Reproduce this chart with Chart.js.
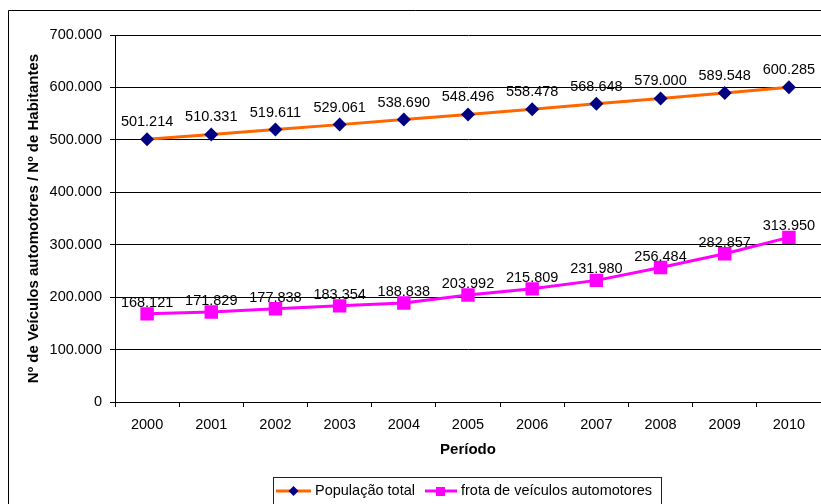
<!DOCTYPE html>
<html>
<head>
<meta charset="utf-8">
<script src="https://cdn.jsdelivr.net/npm/chart.js@4/dist/chart.umd.min.js"></script>
<style>
  html, body { margin: 0; padding: 0; background: #fff; }
  canvas { display: block; }
</style>
</head>
<body>
<canvas id="chart" width="821" height="504"></canvas>
<script>
// Anos do período analisado
const anos = ['2000', '2001', '2002', '2003', '2004', '2005', '2006', '2007', '2008', '2009', '2010'];
// População total (habitantes)
const populacao = [501214, 510331, 519611, 529061, 538690, 548496, 558478, 568648, 579000, 589548, 600285];
// Frota de veículos automotores
const frota = [168121, 171829, 177838, 183354, 188838, 203992, 215809, 231980, 256484, 282857, 313950];
// Escala do eixo vertical
const eixoMin = 0;
const eixoMax = 700000;
const eixoPasso = 100000;

const FONT = '"Liberation Sans", Arial, Helvetica, sans-serif';

// número com ponto como separador de milhar
function fmt(v) {
  if (v === 0) return '0';
  return String(v).replace(/\B(?=(\d{3})+(?!\d))/g, '.');
}

// fundo branco, moldura externa, rótulos de valores e legenda
const extras = {
  id: 'extras',
  beforeDraw(chart) {
    const ctx = chart.ctx;
    ctx.save();
    ctx.fillStyle = '#fff';
    ctx.fillRect(0, 0, chart.width, chart.height);
    ctx.restore();
  },
  afterDatasetsDraw(chart) {
    const ctx = chart.ctx;
    const offsets = [-17, -11];
    ctx.save();
    ctx.font = '14.5px ' + FONT;
    ctx.fillStyle = '#000';
    ctx.textAlign = 'center';
    ctx.textBaseline = 'middle';
    chart.data.datasets.forEach((ds, i) => {
      const meta = chart.getDatasetMeta(i);
      meta.data.forEach((pt, j) => {
        ctx.fillText(fmt(ds.data[j]), pt.x, pt.y + offsets[i]);
      });
    });
    ctx.restore();
  },
  afterDraw(chart) {
    const ctx = chart.ctx;
    ctx.save();
    // moldura externa
    ctx.strokeStyle = '#000';
    ctx.lineWidth = 1;
    ctx.beginPath();
    ctx.moveTo(8.5, chart.height + 2);
    ctx.lineTo(8.5, 10.5);
    ctx.lineTo(chart.width + 2, 10.5);
    ctx.stroke();

    // legenda
    ctx.strokeStyle = '#222';
    ctx.strokeRect(273.5, 477.5, 388, 30);
    const ly = 491;
    const ds = chart.data.datasets;
    // série 1
    ctx.strokeStyle = ds[0].borderColor;
    ctx.lineWidth = 3;
    ctx.beginPath(); ctx.moveTo(276, ly); ctx.lineTo(311, ly); ctx.stroke();
    ctx.fillStyle = ds[0].pointBackgroundColor;
    ctx.beginPath();
    ctx.moveTo(293.5, ly - 5); ctx.lineTo(298.5, ly); ctx.lineTo(293.5, ly + 5); ctx.lineTo(288.5, ly);
    ctx.closePath(); ctx.fill();
    // série 2
    ctx.strokeStyle = ds[1].borderColor;
    ctx.beginPath(); ctx.moveTo(425, ly); ctx.lineTo(457, ly); ctx.stroke();
    ctx.fillStyle = ds[1].pointBackgroundColor;
    ctx.fillRect(436, ly - 4, 9, 9);

    ctx.fillStyle = '#000';
    ctx.font = '14.5px ' + FONT;
    ctx.textAlign = 'left';
    ctx.textBaseline = 'middle';
    ctx.fillText(ds[0].label, 315, ly);
    ctx.fillText(ds[1].label, 461, ly);
    ctx.restore();
  }
};

new Chart(document.getElementById('chart'), {
  type: 'line',
  data: {
    labels: anos,
    datasets: [
      {
        label: 'População total',
        data: populacao,
        borderColor: '#FF6600',
        borderWidth: 3,
        pointStyle: 'rectRot',
        pointRadius: 7,
        pointBackgroundColor: '#000080',
        pointBorderColor: '#000080',
        pointBorderWidth: 0,
        tension: 0
      },
      {
        label: 'frota de veículos automotores',
        data: frota,
        borderColor: '#FF00FF',
        borderWidth: 3,
        pointStyle: 'rect',
        pointRadius: 9.5,
        pointBackgroundColor: '#FF00FF',
        pointBorderColor: '#FF00FF',
        pointBorderWidth: 0,
        tension: 0
      }
    ]
  },
  options: {
    responsive: false,
    animation: false,
    devicePixelRatio: 1,
    layout: { autoPadding: false, padding: { left: 0, right: 0, top: 35, bottom: 32 } },
    plugins: {
      legend: { display: false },
      tooltip: { enabled: false }
    },
    scales: {
      x: {
        type: 'category',
        offset: true,
        grid: {
          display: true,
          offset: true,
          drawOnChartArea: false,
          drawTicks: true,
          tickLength: 5,
          color: '#000'
        },
        border: { display: true, color: '#000', width: 1 },
        ticks: {
          color: '#000',
          font: { family: FONT, size: 14.5 },
          padding: 9,
          maxRotation: 0,
          autoSkip: false
        },
        title: {
          display: true,
          text: 'Período',
          color: '#000',
          font: { family: FONT, size: 15, weight: 'bold' },
          padding: { top: 0, bottom: 13 }
        },
        afterFit(scale) {
          scale.height = 70;
          scale.paddingLeft = 0;
          scale.paddingRight = 0;
        }
      },
      y: {
        min: eixoMin,
        max: eixoMax,
        grid: {
          color: '#000',
          lineWidth: 1,
          drawTicks: true,
          tickLength: 5
        },
        border: { display: true, color: '#000', width: 1 },
        ticks: {
          stepSize: eixoPasso,
          color: '#000',
          font: { family: FONT, size: 14.5 },
          padding: 8,
          callback: (v) => fmt(v)
        },
        title: {
          display: true,
          text: 'Nº de Veículos automotores / Nº de Habitantes',
          color: '#000',
          font: { family: FONT, size: 15, weight: 'bold' },
          padding: { top: 25, bottom: 0 }
        },
        afterFit(scale) { scale.width = 115; }
      }
    }
  },
  plugins: [extras]
});
</script>
</body>
</html>
